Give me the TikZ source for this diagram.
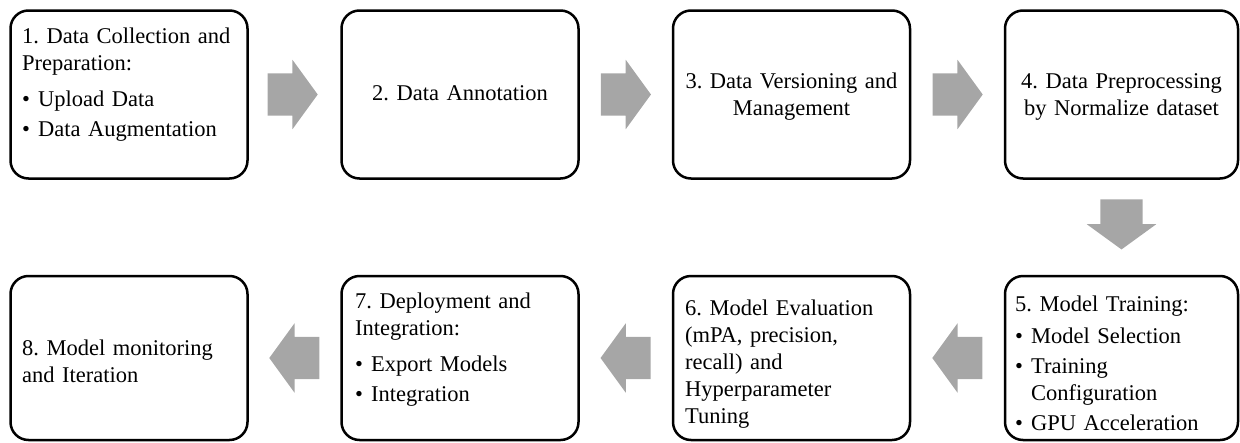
\documentclass[tikz,border=0pt]{standalone}
\usepackage{fontspec}
\setmainfont{Liberation Serif}
\usetikzlibrary{shapes.arrows,calc}
\definecolor{arrowgray}{RGB}{166,166,166}
\newcommand\mybul{\makebox[16pt][l]{\textbullet}}
\frenchspacing
\begin{document}
\begin{tikzpicture}[x=1pt,y=-1pt,
  box/.style={draw=black, line width=2.5pt, rounded corners=18pt, inner sep=0pt},
  topbox/.style={box, minimum width=237pt, minimum height=168pt},
  botbox/.style={box, minimum width=237pt, minimum height=164pt},
  txt/.style={anchor=base west, inner sep=0pt, text width=228pt, align=left, font=\fontsize{22.5}{27}\selectfont},
  ctxt/.style={anchor=base, inner sep=0pt, text width=228pt, align=center, font=\fontsize{22.5}{27}\selectfont},
  barrow/.style={single arrow, fill=arrowgray, draw=none, minimum height=50pt, inner xsep=0pt, inner ysep=21pt, single arrow head extend=13.5pt, single arrow tip angle=108, anchor=tail}
]
\useasboundingbox (0,0) rectangle (1240,442);
% boxes
\node[topbox] (b1) at (129,94.5) {};
\node[topbox] (b2) at (460,94.5) {};
\node[topbox] (b3) at (791.5,94.5) {};
\node[topbox, minimum width=233pt] (b4) at (1121.5,94.5) {};
\node[botbox, minimum width=233pt] (b5) at (1121.5,358) {};
\node[botbox] (b6) at (791.5,358) {};
\node[botbox] (b7) at (460,358) {};
\node[botbox] (b8) at (129,358) {};
% texts
\node[txt] (t1) at (22,43) {1. Data Collection and\\ Preparation:\\[9pt] \mybul Upload Data\\[3pt] \mybul Data Augmentation};
\node[ctxt] (t2) at (460,100) {2. Data Annotation};
\node[ctxt] (t3) at (791.5,88) {3. Data Versioning and\\ Management};
\node[ctxt] (t4) at (1121.5,88) {4. Data Preprocessing\\ by Normalize dataset};
\node[txt] (t5) at (1015,311) {5. Model Training:\\[5pt] \mybul Model Selection\\[3pt] \mybul Training\\ \hspace*{16pt}Configuration\\[3pt] \mybul GPU Acceleration};
\node[txt] (t6) at (685,315) {6. Model Evaluation\\ (mPA, precision,\\ recall) and\\ Hyperparameter\\ Tuning};
\node[txt] (t7) at (355,308) {7. Deployment and\\ Integration:\\[9pt] \mybul Export Models\\[3pt] \mybul Integration};
\node[txt] (t8) at (22,355) {8. Model monitoring\\ and Iteration};
% block arrows
\node[barrow] (a12) at ($(b1.east)!0.5!(b2.west)+(-27,0)$) {};
\node[barrow] (a23) at ($(b2.east)!0.5!(b3.west)+(-25,0)$) {};
\node[barrow] (a34) at ($(b3.east)!0.5!(b4.west)+(-25,0)$) {};
\node[barrow, rotate=-90] (a45) at ($(b4.south)!0.5!(b5.north)+(0,-28)$) {};
\node[barrow, rotate=180] (a56) at ($(b5.west)!0.5!(b6.east)+(25,0)$) {};
\node[barrow, rotate=180] (a67) at ($(b6.west)!0.5!(b7.east)+(25,0)$) {};
\node[barrow, rotate=180] (a78) at ($(b7.west)!0.5!(b8.east)+(25,0)$) {};
\end{tikzpicture}
\end{document}
